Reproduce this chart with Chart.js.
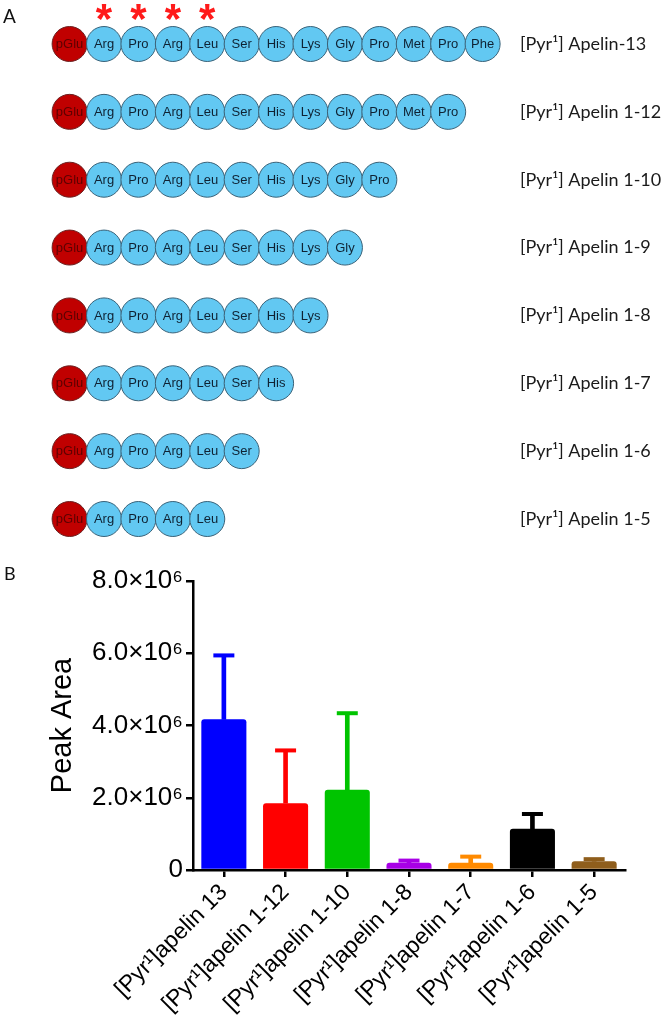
<!DOCTYPE html>
<html><head><meta charset="utf-8">
<script src="https://cdn.jsdelivr.net/npm/chart.js@4.4.1/dist/chart.umd.min.js"></script>
<style>
html,body{margin:0;padding:0;background:#fff;width:664px;height:1023px;overflow:hidden}
#wrap{position:relative;width:664px;height:1023px}
canvas{position:absolute;left:0}
.panel{position:absolute;font-family:Lato,'Open Sans',sans-serif;color:#111;line-height:1}
</style></head>
<body><div id="wrap">
<canvas id="a" width="664" height="540" style="top:0;width:664px;height:540px"></canvas>
<canvas id="b" width="664" height="483" style="top:540px;width:664px;height:483px"></canvas>
<div class="panel" style="left:3px;top:6px;font-size:19px">A</div>
<div class="panel" style="left:4px;top:564px;font-size:18px">B</div>
</div>
<script>
// ---- Panel A data ----
const peptides = ['[Pyr¹] Apelin-13','[Pyr¹] Apelin 1-12','[Pyr¹] Apelin 1-10','[Pyr¹] Apelin 1-9','[Pyr¹] Apelin 1-8','[Pyr¹] Apelin 1-7','[Pyr¹] Apelin 1-6','[Pyr¹] Apelin 1-5'];
const peptideLengths = [13,12,10,9,8,7,6,5];
const sequence = ['pGlu','Arg','Pro','Arg','Leu','Ser','His','Lys','Gly','Pro','Met','Pro','Phe'];
const markedResidues = [1,2,3,4];

// ---- Panel B data ----
const categories = ['[Pyr¹]apelin 13','[Pyr¹]apelin 1-12','[Pyr¹]apelin 1-10','[Pyr¹]apelin 1-8','[Pyr¹]apelin 1-7','[Pyr¹]apelin 1-6','[Pyr¹]apelin 1-5'];
const peakAreaMean = [4.17e6,1.85e6,2.22e6,0.20e6,0.20e6,1.14e6,0.24e6];
const peakAreaSD   = [1.77e6,1.46e6,2.12e6,0.06e6,0.17e6,0.41e6,0.06e6];
const yTicks = [0,2e6,4e6,6e6,8e6];
const yTickLabels = ['0','2.0×10⁶','4.0×10⁶','6.0×10⁶','8.0×10⁶'];
const barColors = ['#0000ff','#ff0000','#00c400','#a800e6','#ff8a00','#000000','#8f5e1c'];

// build residue points
const residuePoints = [];
peptides.forEach((p,row)=>{
  for(let i=0;i<peptideLengths[row];i++){
    residuePoints.push({x:i, y:p, residue:sequence[i], row:row});
  }
});

const residueText = {
  id:'residueText',
  afterDatasetsDraw(chart){
    const ctx = chart.ctx;
    const meta = chart.getDatasetMeta(0);
    const pts = chart.data.datasets[0].data;
    ctx.save();
    meta.data.forEach((el,i)=>{
      const p = pts[i];
      ctx.textAlign='center'; ctx.textBaseline='middle';
      ctx.font='13px "Liberation Sans", Arial, sans-serif';
      ctx.fillStyle = p.residue==='pGlu' ? '#5e0000' : '#0f2233';
      ctx.fillText(p.residue, el.x, el.y+0.5);
      if(p.row===0 && markedResidues.includes(p.x)){
        ctx.font='bold 42px "Liberation Sans", Arial, sans-serif';
        ctx.fillStyle='#ff1a1a';
        ctx.textBaseline='alphabetic';
        const m = ctx.measureText('*');
        const yc = el.y - 32;
        ctx.fillText('*', el.x, yc + (m.actualBoundingBoxAscent - m.actualBoundingBoxDescent)/2);
      }
    });
    ctx.restore();
  }
};

new Chart(document.getElementById('a'), {
  type:'scatter',
  data:{datasets:[{
    data: residuePoints,
    pointRadius:17.5, pointHoverRadius:17.5,
    pointBackgroundColor: residuePoints.map(p=>p.residue==='pGlu'?'#c00000':'#62c8f2'),
    pointBorderColor: residuePoints.map(p=>p.residue==='pGlu'?'#6b2222':'#3a6278'),
    pointBorderWidth:1, clip:false
  }]},
  options:{
    responsive:false, animation:false, devicePixelRatio:1,
    layout:{padding:{top:44,bottom:21,left:0,right:0}},
    plugins:{legend:{display:false},tooltip:{enabled:false}},
    events:[],
    scales:{
      x:{type:'linear', display:false, min:-1.4846, max:12.941},
      y:{type:'category', labels:peptides, position:'right', offset:false,
         grid:{display:false, drawTicks:false}, border:{display:false},
         ticks:{padding:5, autoSkip:false, color:'#1a1a1a', font:{family:'Lato', size:18}},
         afterFit(s){ s.width = 149; }}
    }
  },
  plugins:[residueText]
});

new Chart(document.getElementById('b'), {
  type:'bar',
  data:{labels:categories, datasets:[
    {data:peakAreaMean, backgroundColor:barColors, barPercentage:0.73, categoryPercentage:1, borderRadius:3, borderSkipped:'bottom'},
    {data:peakAreaMean.map((m,i)=>[m, m+peakAreaSD[i]]), backgroundColor:barColors, grouped:false, barThickness:4, maxBarThickness:4},
    {type:'line', data:peakAreaMean.map((m,i)=>m+peakAreaSD[i]), showLine:false, pointStyle:'line',
     pointRadius:10.5, pointHoverRadius:10.5, pointBorderWidth:4, pointBorderColor:barColors, pointBackgroundColor:barColors, clip:false}
  ]},
  options:{
    responsive:false, animation:false, devicePixelRatio:1,
    layout:{padding:{top:41,right:39,left:0,bottom:0}},
    plugins:{legend:{display:false},tooltip:{enabled:false}},
    events:[],
    scales:{
      x:{grid:{offset:false, drawOnChartArea:false, tickLength:7, color:'#000', lineWidth:2.5},
         border:{color:'#000', width:2.5},
         ticks:{maxRotation:45, minRotation:45, autoSkip:false, padding:2, color:'#000', font:{family:'Liberation Sans', size:23}},
         afterFit(s){ s.height = 153; }},
      y:{min:0, max:8e6,
         afterBuildTicks(s){ s.ticks = yTicks.map(v=>({value:v})); },
         ticks:{callback:(v,i)=>yTickLabels[i], color:'#000', padding:3, font:{family:'Liberation Sans', size:26}},
         grid:{drawOnChartArea:false, tickLength:7, color:'#000', lineWidth:2.5},
         border:{color:'#000', width:2.5},
         title:{display:true, text:'Peak Area', color:'#000', font:{family:'Liberation Sans', size:29}, padding:{top:46}},
         afterFit(s){ s.width = 193; }}
    }
  }
});
</script>
</body></html>
